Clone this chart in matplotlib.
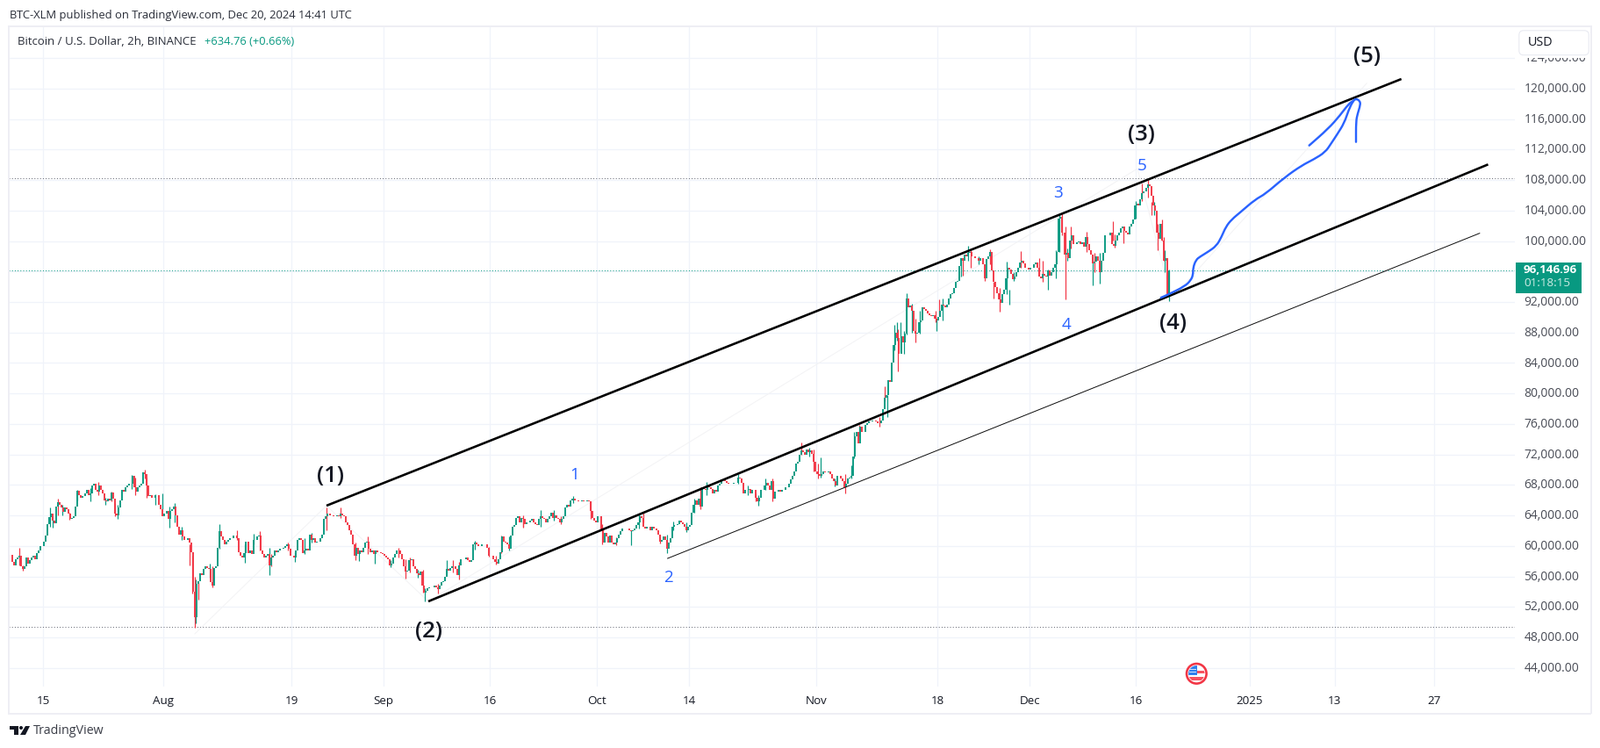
import numpy as np
import matplotlib
matplotlib.use("Agg")
import matplotlib.pyplot as plt
from matplotlib.patches import Rectangle, FancyBboxPatch, Circle, Polygon, PathPatch
from matplotlib.path import Path
from matplotlib.transforms import Affine2D, ScaledTranslation

W, H = 1824, 852
FONT = "Open Sans"
GREEN, RED, BLUE = "#089981", "#f23645", "#2962ff"

# ---------- data (prices in thousands of USD, days counted from 15 Jul 2024) ----------
BASE_DATE = "2024-07-15"
close_jul = [58.87, 57.9, 57.5,
 58.3, 58.5, 58.7, 57.3,  56.95, 57.3, 58.5, 57.7,  58.1, 58.5, 58.7, 58.3,  59.05, 59.4, 60.0, 60.0,
 60.6, 61.4, 62.9, 63.8,  64.2, 63.3, 63.0, 65.2,  65.7, 65.4, 65.0, 64.5,  65.0, 64.8, 64.2, 63.5,
 63.7, 63.9, 65.2, 67.2,  66.7, 66.3, 66.5, 66.9,  67.3, 66.7, 66.9, 67.9,  68.1, 67.3, 67.1, 67.9,
 67.3, 66.9, 66.0, 65.8,  66.2, 66.0, 67.0, 66.2,  64.2, 64.0, 65.0, 66.0,  67.3, 67.1, 67.7, 67.9,
 68.1, 68.1, 69.2, 67.7,  67.1, 67.7, 67.9, 68.1,  69.6, 69.4, 67.9, 66.5,  66.7, 66.3, 66.3, 66.7,
 66.7, 65.4, 64.8, 63.9]
close_aug = [
 64.2, 64.6, 63.5, 64.6,  64.8, 65.2, 64.0, 62.5,  61.5, 62.1, 61.2, 60.8,  60.8, 61.0, 60.4, 59.2,
 54.0, 50.6, 55.0, 55.4,  56.4, 56.2, 57.0, 57.3,  57.1, 57.0, 55.2, 54.8,  57.1, 57.3, 59.8, 61.9,
 61.2, 60.8, 60.2, 60.6,  60.8, 61.0, 61.0, 61.4,  61.4, 61.0, 59.2, 58.7,  58.5, 59.1, 60.6, 59.1,
 59.4, 58.9, 60.8, 60.8,  61.2, 61.4, 59.4, 58.9,  58.5, 58.7, 58.9, 57.5,  58.5, 58.7, 59.4, 59.2,
 59.4, 59.6, 59.6, 59.8,  60.0, 60.2, 59.6, 58.7,  58.7, 58.5, 59.4, 60.8,  61.0, 60.8, 59.1, 59.4,
 59.6, 59.4, 61.5, 60.8,  61.0, 60.4, 60.6, 60.6,  61.0, 61.5, 63.5, 63.9,  64.2, 64.0, 64.0, 63.9,
 63.9, 64.0, 63.9, 64.2,  64.0, 63.9, 63.1, 62.7,  62.1, 61.5, 60.2, 58.7,  59.8, 58.9, 59.4, 59.2,
 59.8, 60.4, 60.6, 59.6,  59.2, 59.4, 58.9, 59.4,  59.2, 59.2, 59.1, 58.9]
close_sep = [
 58.7, 58.5, 58.3, 57.5,  57.7, 58.5, 58.9, 59.4,  59.4, 58.9, 58.3, 57.3,  56.6, 56.8, 58.1, 58.3,
 57.3, 57.0, 56.4, 56.2,  56.6, 54.8, 53.9, 54.1,  54.4, 54.6, 54.6, 54.6,  54.8, 54.6, 54.3, 54.8,
 55.2, 55.4, 56.0, 57.0,  56.8, 57.1, 57.3, 57.3,  57.0, 56.2, 57.5, 58.3,  58.3, 58.3, 58.5, 58.1,
 57.9, 58.1, 60.2, 60.4,  60.2, 60.0, 60.0, 60.2,  60.2, 60.2, 59.8, 58.7,  58.7, 58.3, 57.9, 57.7,
 58.3, 59.2, 61.2, 60.6,  60.4, 60.2, 59.6, 61.4,  62.5, 62.7, 63.7, 63.9,  63.1, 63.7, 63.5, 62.9,
 63.1, 63.1, 63.3, 63.5,  63.1, 62.9, 62.7, 63.5,  63.9, 63.7, 63.5, 63.1,  63.5, 63.9, 64.4, 63.7,
 64.0, 63.7, 63.5, 63.1,  63.5, 63.9, 65.0, 65.4,  65.2, 66.0, 66.2, 66.0,  66.0, 65.8, 65.8, 66.0,
 65.8, 65.8, 66.0, 65.8,  64.6, 63.7, 63.3, 63.1]
close_oct = [
 63.9, 63.9, 62.1, 60.4,  61.7, 61.2, 60.4, 61.4,  60.4, 60.2, 60.4, 61.0,  61.5, 61.9, 62.3, 62.3,
 62.3, 62.3, 62.1, 61.9,  62.1, 62.3, 62.7, 63.1,  63.9, 63.7, 62.5, 62.3,  62.5, 62.5, 62.1, 62.5,
 62.3, 62.1, 61.5, 60.6,  60.8, 61.2, 60.8, 59.6,  60.4, 61.0, 62.5, 62.7,  62.7, 62.9, 63.3, 63.1,
 62.9, 62.5, 62.1, 62.5,  62.7, 64.4, 65.4, 66.0,  65.4, 66.2, 65.2, 67.7,  67.5, 67.3, 67.9, 67.7,
 67.5, 66.9, 67.3, 67.1,  67.9, 68.1, 68.7, 68.7,  68.5, 68.3, 68.1, 68.1,  68.1, 68.3, 68.3, 69.0,
 68.9, 68.3, 66.9, 67.3,  67.3, 67.5, 66.9, 67.3,  67.3, 66.3, 65.8, 66.3,  67.3, 67.3, 67.9, 68.3,
 67.9, 67.3, 68.5, 66.2,  67.1, 67.1, 67.3, 67.1,  67.3, 67.3, 67.7, 67.7,  68.1, 68.7, 69.2, 69.8,
 70.8, 71.0, 71.9, 72.5,  72.3, 71.9, 72.7, 72.3,  72.5, 72.1, 71.0, 69.8]
close_nov = [
 69.4, 69.2, 69.4, 69.8,  69.6, 69.6, 69.8, 69.4,  68.8, 68.5, 67.9, 69.2,  69.2, 68.8, 68.5, 67.7,
 68.1, 68.8, 69.0, 69.2,  71.7, 74.4, 75.0, 73.5,  75.6, 75.0, 75.0, 75.9,  76.1, 76.3, 76.3, 76.5,
 76.5, 76.3, 76.1, 76.1,  76.5, 77.9, 79.4, 79.8,  81.7, 81.5, 84.0, 86.3,  88.0, 87.3, 85.2, 87.5,
 86.7, 87.9, 92.5, 91.3,  91.5, 90.9, 88.2, 87.9,  88.0, 89.4, 89.6, 91.3,  91.1, 90.9, 90.5, 90.3,
 90.2, 90.3, 89.8, 89.6,  90.0, 90.9, 91.7, 91.5,  91.3, 91.7, 92.5, 93.0,  93.2, 93.8, 94.6, 94.8,
 96.7, 97.8, 97.4, 98.2,  98.0, 98.4, 98.6, 98.0,  98.0, 97.8, 97.8, 97.4,  97.8, 96.9, 95.1, 97.6,
 98.0, 98.6, 96.1, 94.6,  94.0, 93.2, 92.3, 91.9,  93.0, 93.6, 95.1, 96.5,  96.3, 95.7, 95.0, 95.3,
 95.9, 96.5, 97.2, 97.4,  97.1, 96.5, 96.5, 96.3]
close_dec = [
 96.5, 96.5, 96.9, 97.2,  96.5, 95.3, 95.1, 95.7,  95.5, 95.3, 96.1, 95.5,  95.9, 96.5, 96.9, 98.6,
 103.0, 103.2, 101.1, 98.2,  98.4, 97.8, 100.1, 100.7,  99.6, 99.6, 99.8, 99.9,  99.6, 99.8, 99.2, 100.5,
 99.6, 98.8, 98.2, 97.1,  97.3, 98.0, 97.4, 95.9,  97.4, 98.4, 100.7, 100.7,  100.7, 101.1, 99.6, 99.4,
 100.1, 100.7, 101.1, 101.7,  101.9, 101.3, 101.1, 100.9,  101.9, 102.3, 102.8, 104.7,  104.9, 104.7, 105.5, 106.3,
 106.5, 107.0, 107.4, 107.2,  105.9, 104.7, 104.0, 101.1,  100.3, 102.2, 100.1, 97.4,
 97.8, 93.0, 96.15]

# wicks: (day, high, low)
wicks_green = [(0.95, 65.0, 62.5), (1.36, 63.9, 62.4), (2.76, 65.4, 64.0), (4.8, 67.4, 66.0), (6.7, 67.6, 65.8),
 (8.8, 66.3, 65.4), (10.55, 65.4, 63.6), (12.5, 69.3, 67.5), (15.8, 66.8, 65.4), (16.8, 66.9, 64.8),
 (17.8, 65.2, 62.4), (18.5, 65.6, 63.1), (19.5, 62.5, 60.8), (21.56, 55.6, 49.8), (23.5, 57.7, 55.8),
 (24.9, 62.8, 59.6), (28.4, 60.2, 57.8), (29.7, 61.6, 60.2), (31.9, 59.8, 56.2), (35.5, 59.2, 57.9),
 (36.8, 61.0, 58.9), (37.9, 61.7, 60.4), (44.5, 59.4, 58.0), (46.7, 59.4, 57.7), (49.0, 58.1, 57.2),
 (52.8, 56.9, 55.8), (53.8, 54.5, 52.7), (56.9, 58.1, 56.2), (60.8, 60.7, 59.5), (65.7, 61.2, 59.4),
 (70.1, 64.7, 62.5), (72.0, 64.7, 63.3), (74.7, 66.5, 65.6), (82.8, 62.1, 60.1), (84.0, 64.2, 62.3),
 (87.9, 61.5, 59.0), (88.75, 63.2, 62.0), (90.6, 63.1, 61.8), (91.7, 66.2, 64.4), (93.5, 68.4, 66.7),
 (97.99, 69.4, 68.1), (99.3, 67.9, 66.7), (100.8, 66.7, 65.3), (101.8, 68.8, 67.3), (107.9, 72.9, 71.7),
 (111.5, 68.8, 67.8), (109.55, 71.65, 69.0), (113.9, 70.6, 68.8), (114.3, 75.0, 71.5), (118.9, 79.8, 76.9),
 (120.0, 89.0, 85.7), (120.3, 89.4, 86.9), (120.8, 89.4, 85.4), (121.3, 88.2, 85.2), (121.7, 93.15, 87.7),
 (122.4, 91.8, 88.0), (123.5, 90.9, 87.9), (125.9, 89.8, 88.2), (126.7, 92.5, 89.6), (129.3, 97.8, 95.3),
 (130.3, 99.4, 97.4), (131.8, 98.0, 96.9), (135.8, 97.25, 93.0), (136.2, 93.6, 91.7), (136.8, 95.9, 94.8),
 (141.6, 96.3, 93.6), (142.7, 98.8, 95.1), (143.15, 103.6, 98.6), (144.35, 99.0, 97.4), (147.9, 98.2, 94.2),
 (148.85, 98.4, 94.4), (153.96, 105.3, 103.0), (156.6, 105.1, 103.4), (158.0, 98.8, 95.9), (158.6, 96.3, 92.1)]
wicks_red = [(-3.4, 59.75, 57.5), (-2.9, 57.5, 56.7), (2.06, 66.2, 64.0), (3.75, 64.4, 63.4), (7.75, 68.35, 66.7),
 (9.6, 67.1, 65.8), (10.1, 65.6, 63.9), (13.0, 69.0, 66.7), (14.4, 70.0, 68.85), (14.6, 69.0, 66.35),
 (20.7, 60.2, 57.5), (21.06, 58.7, 53.7), (21.35, 56.0, 49.3), (21.9, 55.2, 53.0), (23.9, 57.3, 54.6),
 (27.3, 62.0, 60.8), (30.6, 61.9, 59.4), (32.1, 58.9, 57.3), (34.5, 60.4, 59.4), (39.9, 65.0, 62.1),
 (41.96, 65.0, 63.7), (44.0, 60.4, 58.1), (45.7, 61.3, 58.9), (50.1, 59.8, 58.5), (51.07, 58.3, 55.7),
 (51.7, 58.5, 56.5), (53.5, 56.9, 53.9), (55.6, 55.0, 53.8), (57.8, 58.1, 56.5), (58.6, 57.9, 55.6),
 (62.8, 59.9, 58.6), (63.8, 58.7, 57.6), (64.6, 61.4, 59.0), (67.6, 64.0, 62.5), (67.7, 63.5, 62.4),
 (73.0, 63.9, 62.8), (77.2, 65.8, 63.5), (78.8, 62.9, 60.2), (80.7, 61.1, 60.1), (84.6, 64.4, 63.1),
 (86.9, 61.5, 60.3), (92.66, 67.7, 64.8), (100.4, 66.9, 65.8), (102.75, 68.85, 65.8), (106.8, 73.6, 71.9),
 (108.6, 72.7, 69.8), (109.15, 70.8, 68.9), (113.0, 69.4, 66.9), (115.0, 75.9, 74.4), (117.9, 76.9, 75.6),
 (118.6, 80.9, 79.0), (120.5, 88.4, 82.9), (122.95, 89.8, 86.7), (125.8, 90.9, 89.4), (126.3, 92.3, 90.2),
 (129.6, 97.6, 95.5), (130.7, 98.8, 96.5), (132.7, 96.7, 94.8), (133.4, 98.9, 96.9), (133.9, 94.6, 92.5),
 (134.8, 93.8, 90.7), (137.7, 98.7, 96.5), (140.3, 97.8, 95.5), (140.8, 97.4, 94.6), (143.6, 103.6, 100.7),
 (144.0, 101.9, 92.4), (144.8, 101.9, 99.0), (147.0, 101.2, 98.6), (148.1, 98.4, 95.9), (150.7, 102.6, 100.1),
 (151.0, 100.9, 99.1), (152.2, 101.9, 99.7), (154.8, 107.5, 105.3), (155.65, 108.1, 105.7), (156.2, 105.1, 103.4),
 (157.0, 102.2, 98.8), (157.6, 102.8, 100.1), (157.9, 100.5, 97.4), (158.5, 96.0, 92.8)]

channel_upper_day, channel_upper_price = [39.94, 191.38], [65.28, 121.26]
channel_lower_day, channel_lower_price = [54.29, 203.6], [52.72, 110.05]
channel_thin_day, channel_thin_price = [88.0, 202.4], [58.36, 101.02]
faint_day = [21.39, 39.94, 54.29, 154.2, 159.0, 186.5]
faint_price = [48.46, 65.28, 52.72, 109.5, 92.46, 120.7]
blue_day = [157.5, 158.49, 160.88, 161.7, 162.03, 162.03, 162.44, 163.02, 164.17, 165.33, 166.03, 166.65,
            167.47, 168.71, 170.77, 172.21, 174.89, 177.36, 179.01, 180.66, 181.49, 182.31, 183.34, 183.96,
            184.58, 184.99, 185.53, 185.61, 185.2, 184.99, 184.99]
blue_price = [92.57, 92.96, 94.07, 94.84, 95.53, 96.49, 97.53, 97.95, 98.6, 99.37, 100.52, 101.87,
              102.83, 103.79, 105.44, 106.17, 108.32, 109.93, 110.7, 111.66, 112.81, 113.96, 115.5, 117.23,
              118.38, 118.69, 118.38, 117.88, 116.65, 115.69, 113.0]
blue2_day = [178.39, 181.07, 182.72, 183.96, 184.58]
blue2_price = [112.54, 114.73, 116.46, 118.0, 118.38]

high_level, low_level, last_price = 108.2, 49.35, 96.14696
wave_text = ["(1)", "(2)", "(3)", "(4)", "(5)"]
wave_day = [40.44, 54.29, 154.78, 159.15, 186.56]
wave_price = [69.08, 48.69, 114.0, 89.12, 124.14]
sub_text = ["1", "2", "3", "4", "5"]
sub_day = [74.93, 88.04, 143.03, 144.19, 154.82]
sub_price = [69.31, 55.86, 106.28, 89.0, 109.85]

time_tick_dates = ["2024-07-15", "2024-08-01", "2024-08-19", "2024-09-01", "2024-09-16", "2024-10-01", "2024-10-14",
                   "2024-11-01", "2024-11-18", "2024-12-01", "2024-12-16", "2025-01-01", "2025-01-13", "2025-01-27"]
time_tick_labels = ["15", "Aug", "19", "Sep", "16", "Oct", "14", "Nov", "18", "Dec", "16", "2025", "13", "27"]
price_ticks = list(range(44, 125, 4))

# ---------- derived ----------
close = np.array(close_jul + close_aug + close_sep + close_oct + close_nov + close_dec)
assert len(close) == 654, len(close)
bar_day = -4.625 + 0.25 * np.arange(len(close))
open_ = np.r_[close[0], close[:-1]]
up = close >= open_
tick_days = (np.array(time_tick_dates, dtype="datetime64[D]") - np.datetime64(BASE_DATE)) / np.timedelta64(1, "D")

# ---------- figure ----------
fig = plt.figure(figsize=(W / 100, H / 100), dpi=100, facecolor="white")
plt.rcParams["font.family"] = FONT
PT = 0.72  # points per pixel
px = Affine2D().scale(1, -1).translate(0, H)  # top-left pixel coordinates for the page furniture

ax = fig.add_axes([10 / W, 1 - 782 / H, 1716 / W, 752 / H])
ax.set_xlim((10 - 49) / 8.087, (1726 - 49) / 8.087)
ax.set_ylim(44 + (760.7 - 782) * 0.11519, 44 + (760.7 - 30) * 0.11519)
for s in ax.spines.values():
    s.set_visible(False)
ax.grid(True, color="#f0f3fa", lw=1.3 * PT, zorder=0)
ax.set_axisbelow(True)
ax.set_xticks(tick_days)
ax.set_xticklabels(time_tick_labels, fontname=FONT, fontsize=9.6, color="#131722")
ax.yaxis.tick_right()
ax.set_yticks(price_ticks)
ax.set_yticklabels(["" if p == 96 else f"{p*1000:,.2f}" for p in price_ticks], fontname=FONT, fontsize=10, color="#4a4d57")
ax.tick_params(axis="x", length=0, pad=7)
ax.tick_params(axis="y", length=0, pad=7.4)
lift = ScaledTranslation(0, 1.4 * PT / 72, fig.dpi_scale_trans)
for lab in ax.get_yticklabels():
    lab.set_transform(lab.get_transform() + lift)

# levels
ax.axhline(high_level, color="#666975", lw=1 * PT, ls=(0, (1, 2.2)), zorder=1)
ax.axhline(low_level, color="#666975", lw=1 * PT, ls=(0, (1, 2.2)), zorder=1)
ax.axhline(last_price, color=GREEN, lw=1 * PT, ls=(0, (1, 2.2)), zorder=1)
ax.plot(faint_day, faint_price, color="#f3f3f5", lw=1 * PT, zorder=1)

# candles
for items, col in ((wicks_green, GREEN), (wicks_red, RED)):
    d, hi, lo = zip(*items)
    ax.vlines(d, lo, hi, color=col, lw=1.2 * PT, zorder=3)
ax.vlines(bar_day[up], open_[up], close[up], color=GREEN, lw=1.9 * PT, zorder=4, capstyle="butt")
ax.vlines(bar_day[~up], close[~up], open_[~up], color=RED, lw=1.9 * PT, zorder=4, capstyle="butt")

# channel
ax.plot(channel_upper_day, channel_upper_price, color="black", lw=2.6 * PT, zorder=5, solid_capstyle="butt")
ax.plot(channel_lower_day, channel_lower_price, color="black", lw=2.6 * PT, zorder=5, solid_capstyle="butt")
ax.plot(channel_thin_day, channel_thin_price, color="#111111", lw=1.0 * PT, zorder=5)

def hand_stroke(days, prices):
    """Hand-drawn brush stroke: the read points steer quadratic Bezier curves."""
    pts = np.column_stack([days, prices])
    mids = (pts[:-1] + pts[1:]) / 2
    verts, codes = [pts[0], mids[0]], [Path.MOVETO, Path.LINETO]
    for ctrl, end in zip(pts[1:-1], mids[1:]):
        verts += [ctrl, end]
        codes += [Path.CURVE3, Path.CURVE3]
    verts.append(pts[-1])
    codes.append(Path.LINETO)
    ax.add_patch(PathPatch(Path(verts, codes), fc="none", ec=BLUE, lw=2.4 * PT, zorder=6, capstyle="round", joinstyle="round"))

hand_stroke(blue_day, blue_price)
hand_stroke(blue2_day, blue2_price)

for t, d, p in zip(wave_text, wave_day, wave_price):
    ax.text(d, p, t, ha="center", va="center", fontsize=18.5, fontweight="semibold", color="#131722", zorder=7, fontname=FONT)
for t, d, p in zip(sub_text, sub_day, sub_price):
    ax.text(d, p, t, ha="center", va="center", fontsize=13.5, color=BLUE, zorder=7, fontname=FONT)

# ---------- page furniture ----------
def frect(x0, y0, x1, y1, **kw):
    fig.add_artist(Rectangle((x0, y0), x1 - x0, y1 - y0, transform=px, **kw))

border = "#eeeef4"
frect(1727, 31, 1812, 65.5, fc="white", ec="none", zorder=7)
frect(9, 29, 1813, 31, fc=border, ec="none", zorder=8)
frect(9, 811.5, 1813, 813.5, fc=border, ec="none", zorder=8)
frect(9, 29, 11, 813, fc=border, ec="none", zorder=8)
frect(1811.5, 29, 1813.5, 813, fc=border, ec="none", zorder=8)

# USD button
fig.add_artist(FancyBboxPatch((1733, 37), 75, 23.5, boxstyle="round,pad=2.2,rounding_size=5", transform=px,
                              fc="white", ec="#e6e8f0", lw=1 * PT, zorder=9))
fig.text(1741 / W, 1 - 49 / H, "USD", fontsize=10.4, color="#131722", va="center", ha="left", zorder=10, fontname=FONT)

# last-price badge
frect(1727, 299, 1802, 334, fc=GREEN, ec="none", zorder=9)
fig.text(1736 / W, 1 - 307.5 / H, "96,146.96", fontsize=9.6, fontweight="bold", color="white", va="center", zorder=10, fontname=FONT)
fig.text(1736 / W, 1 - 323 / H, "01:18:15", fontsize=9.6, fontweight="medium", color="#cdebe4", va="center", zorder=10, fontname=FONT)

# headers
fig.text(11 / W, 1 - 17.5 / H, "BTC-XLM published on TradingView.com, Dec 20, 2024 14:41 UTC", fontsize=9.35, color="#2a2e39", va="center", fontname=FONT)
fig.text(20 / W, 1 - 47.5 / H, "Bitcoin / U.S. Dollar, 2h, BINANCE", fontsize=9.5, color="#2a2e39", va="center", zorder=10, fontname=FONT)
fig.text(233 / W, 1 - 47.5 / H, "+634.76 (+0.66%)", fontsize=9.3, color=GREEN, va="center", zorder=10, fontname=FONT)

# footer logo
fig.text(38 / W, 1 - 832.5 / H, "TradingView", fontsize=10.3, color="#3a3d47", va="center", fontname=FONT)
fig.add_artist(Polygon([(11, 827), (21, 827), (21, 837), (16, 837), (16, 831), (11, 831)], transform=px, fc="#131722", ec="none"))
fig.add_artist(Circle((24, 829), 2, transform=px, fc="#131722", ec="none"))
fig.add_artist(Polygon([(29, 827), (34, 827), (29, 837), (23, 837)], transform=px, fc="#131722", ec="none"))

# US event flag
cx, cy = 1363.3, 767.3
fig.add_artist(Circle((cx, cy), 11.3, transform=px, fc="white", ec="#f23645", lw=2.6 * PT, zorder=9))
inner = Circle((cx, cy), 9.2, transform=px, fc="none", ec="none", zorder=9)
fig.add_artist(inner)
for x0, y0, x1, y1, c in [(cx, cy - 3.5, cx + 10, cy, "#f7525f"), (cx - 10, cy + 4, cx + 10, cy + 7.5, "#f7525f"),
                          (cx - 10, cy - 10, cx + 0.5, cy + 1.5, "#2f80ed")]:
    r = Rectangle((x0, y0), x1 - x0, y1 - y0, transform=px, fc=c, ec="none", zorder=10)
    fig.add_artist(r)
    r.set_clip_path(inner)
for dy in (-5.5, -2.5):
    fig.add_artist(Rectangle((cx - 8, cy + dy), 8, 0.8, transform=px, fc="#cfe2fb", ec="none", zorder=11))

fig.savefig("out.png", dpi=100, facecolor="white")
